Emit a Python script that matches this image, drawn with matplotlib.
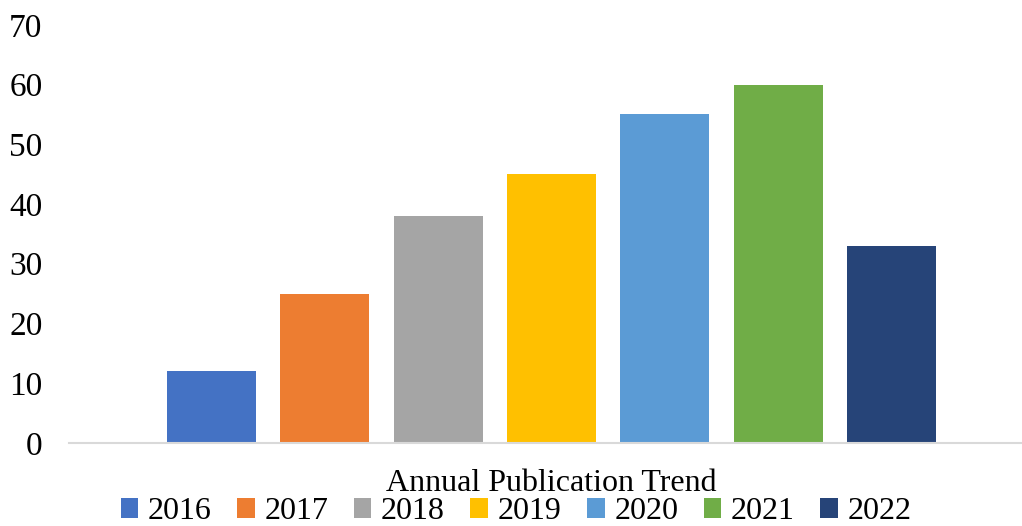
import numpy as np
import matplotlib.pyplot as plt

years = ['2016', '2017', '2018', '2019', '2020', '2021', '2022']
counts = [12, 25, 38, 45, 55, 60, 33]
colors = ['#4472C4', '#ED7D31', '#A5A5A5', '#FFC000', '#5B9BD5', '#70AD47', '#264478']
category = 'Annual Publication Trend'

plt.rcParams['font.family'] = ['Liberation Serif', 'DejaVu Serif']

fig = plt.figure(figsize=(10.22, 5.26), dpi=100)
ax = fig.add_axes([0.0675, 0.158, 0.9315, 0.7947])

x = np.arange(len(years))
width = 0.786
for i in range(len(years)):
    ax.bar(x[i], counts[i], width=width, color=colors[i], label=years[i])

ax.set_ylim(0, 70)
ax.set_xlim(-1.258, 7.143)
ax.set_yticks(range(0, 71, 10))
ax.set_xticks([x.mean()])
ax.set_xticklabels([category])
ax.tick_params(axis='y', length=0, pad=19, labelsize=24)
ax.tick_params(axis='x', length=0, pad=19, labelsize=23)

for s in ['top', 'right', 'left']:
    ax.spines[s].set_visible(False)
ax.spines['bottom'].set_color('#d9d9d9')
ax.spines['bottom'].set_linewidth(1.5)

fig.legend(loc='center', bbox_to_anchor=(0.505, 0.027), ncol=7, frameon=False,
           fontsize=23, handlelength=0.55, handleheight=0.55, handletextpad=0.3,
           columnspacing=0.8, borderpad=0)

fig.savefig('out.png', dpi=100)
